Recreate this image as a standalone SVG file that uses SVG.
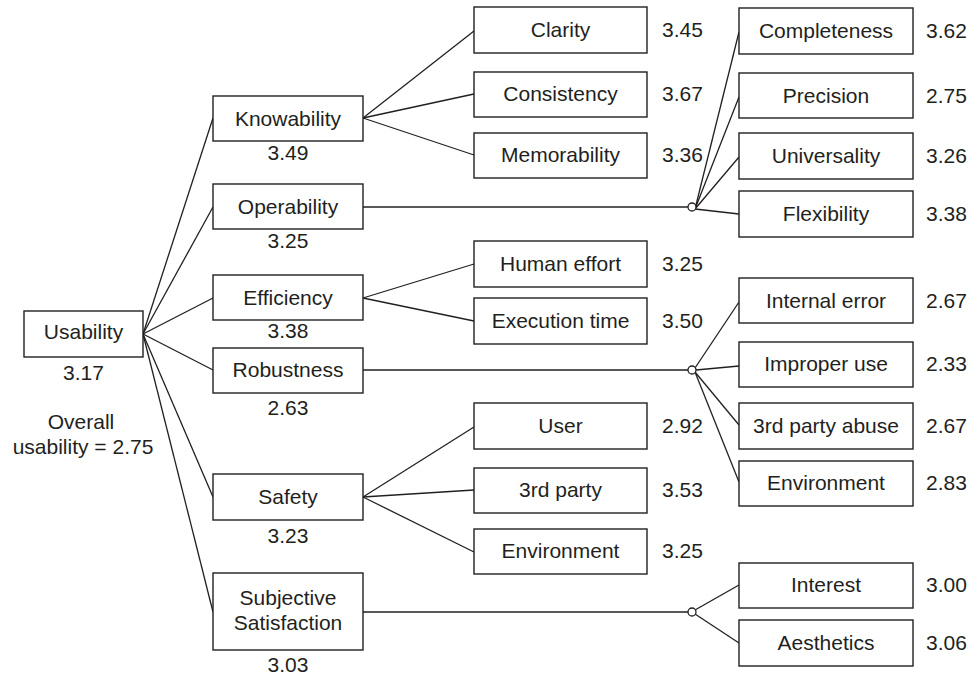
<svg xmlns="http://www.w3.org/2000/svg" width="972" height="676" viewBox="0 0 972 676">
<style>
rect.box{fill:#fff;stroke:#231f20;stroke-width:1.4}
text{font-family:"Liberation Sans",Arial,sans-serif;font-size:21px;fill:#231f20}
.c{text-anchor:middle}
#connectors line{stroke:#231f20;stroke-width:1.3}
#connectors circle{fill:#fff;stroke:#231f20;stroke-width:1.3}
</style>
<rect width="972" height="676" fill="#fff"/>
<g id="connectors">
<line x1="143" y1="334" x2="213" y2="118"/>
<line x1="143" y1="334" x2="213" y2="207"/>
<line x1="143" y1="334" x2="213" y2="298"/>
<line x1="143" y1="334" x2="213" y2="370"/>
<line x1="143" y1="334" x2="213" y2="497"/>
<line x1="143" y1="334" x2="213" y2="612"/>
<line x1="363" y1="118" x2="474" y2="31"/>
<line x1="363" y1="118" x2="474" y2="94"/>
<line x1="363" y1="118" x2="474" y2="155"/>
<line x1="363" y1="298" x2="474" y2="264"/>
<line x1="363" y1="298" x2="474" y2="321"/>
<line x1="363" y1="497" x2="474" y2="427"/>
<line x1="363" y1="497" x2="474" y2="490"/>
<line x1="363" y1="497" x2="474" y2="552"/>
<line x1="363" y1="207" x2="688" y2="207"/>
<line x1="363" y1="370" x2="688" y2="370"/>
<line x1="363" y1="612" x2="688" y2="612"/>
<line x1="695" y1="209" x2="739" y2="32"/>
<line x1="695" y1="209" x2="739" y2="97"/>
<line x1="695" y1="209" x2="739" y2="157"/>
<line x1="695" y1="209" x2="739" y2="214"/>
<line x1="695" y1="368" x2="739" y2="302"/>
<line x1="696" y1="370" x2="739" y2="366"/>
<line x1="695" y1="372" x2="739" y2="425"/>
<line x1="695" y1="372" x2="739" y2="482"/>
<line x1="695" y1="610" x2="739" y2="585"/>
<line x1="695" y1="614" x2="739" y2="643"/>
<circle cx="692" cy="207" r="4"/>
<circle cx="692" cy="370" r="4"/>
<circle cx="692" cy="612" r="4"/>
</g>
<g id="usability"><rect class="box" x="24" y="311" width="119" height="46"/><text class="c" x="83.5" y="339">Usability</text><text class="c" x="83.5" y="380">3.17</text></g>
<g id="overall"><text class="c" x="81" y="429">Overall</text><text class="c" x="83" y="454">usability = 2.75</text></g>
<g id="knowability"><rect class="box" x="213" y="96" width="150" height="45"/><text class="c" x="288" y="126">Knowability</text><text class="c" x="288" y="160">3.49</text></g>
<g id="operability"><rect class="box" x="213" y="184" width="150" height="45"/><text class="c" x="288" y="214">Operability</text><text class="c" x="288" y="248">3.25</text></g>
<g id="efficiency"><rect class="box" x="213" y="275" width="150" height="45"/><text class="c" x="288" y="305">Efficiency</text><text class="c" x="288" y="338">3.38</text></g>
<g id="robustness"><rect class="box" x="213" y="348" width="150" height="45"/><text class="c" x="288" y="377">Robustness</text><text class="c" x="288" y="415">2.63</text></g>
<g id="safety"><rect class="box" x="213" y="474" width="150" height="46"/><text class="c" x="288" y="504">Safety</text><text class="c" x="288" y="543">3.23</text></g>
<g id="subjective"><rect class="box" x="213" y="573" width="150" height="77"/><text class="c" x="288" y="605">Subjective</text><text class="c" x="288" y="630">Satisfaction</text><text class="c" x="288" y="672">3.03</text></g>
<g id="clarity"><rect class="box" x="474" y="7" width="173" height="46"/><text class="c" x="560.5" y="37">Clarity</text><text x="662" y="37">3.45</text></g>
<g id="consistency"><rect class="box" x="474" y="72" width="173" height="45"/><text class="c" x="560.5" y="101">Consistency</text><text x="662" y="101">3.67</text></g>
<g id="memorability"><rect class="box" x="474" y="133" width="173" height="45"/><text class="c" x="560.5" y="162">Memorability</text><text x="662" y="162">3.36</text></g>
<g id="human-effort"><rect class="box" x="474" y="241" width="173" height="46"/><text class="c" x="560.5" y="271">Human effort</text><text x="662" y="271">3.25</text></g>
<g id="execution-time"><rect class="box" x="474" y="298" width="173" height="46"/><text class="c" x="560.5" y="328">Execution time</text><text x="662" y="328">3.50</text></g>
<g id="user"><rect class="box" x="474" y="403" width="173" height="46"/><text class="c" x="560.5" y="433">User</text><text x="662" y="433">2.92</text></g>
<g id="third-party"><rect class="box" x="474" y="468" width="173" height="45"/><text class="c" x="560.5" y="497">3rd party</text><text x="662" y="497">3.53</text></g>
<g id="environment-s"><rect class="box" x="474" y="529" width="173" height="45"/><text class="c" x="560.5" y="558">Environment</text><text x="662" y="558">3.25</text></g>
<g id="completeness"><rect class="box" x="739" y="8" width="174" height="46"/><text class="c" x="826" y="38">Completeness</text><text x="926" y="38">3.62</text></g>
<g id="precision"><rect class="box" x="739" y="73" width="174" height="45"/><text class="c" x="826" y="103">Precision</text><text x="926" y="103">2.75</text></g>
<g id="universality"><rect class="box" x="739" y="133" width="174" height="46"/><text class="c" x="826" y="163">Universality</text><text x="926" y="163">3.26</text></g>
<g id="flexibility"><rect class="box" x="739" y="191" width="174" height="46"/><text class="c" x="826" y="221">Flexibility</text><text x="926" y="221">3.38</text></g>
<g id="internal-error"><rect class="box" x="739" y="278" width="174" height="45"/><text class="c" x="826" y="308">Internal error</text><text x="926" y="308">2.67</text></g>
<g id="improper-use"><rect class="box" x="739" y="342" width="174" height="45"/><text class="c" x="826" y="371">Improper use</text><text x="926" y="371">2.33</text></g>
<g id="third-party-abuse"><rect class="box" x="739" y="403" width="174" height="46"/><text class="c" x="826" y="433">3rd party abuse</text><text x="926" y="433">2.67</text></g>
<g id="environment-r"><rect class="box" x="739" y="461" width="174" height="45"/><text class="c" x="826" y="490">Environment</text><text x="926" y="490">2.83</text></g>
<g id="interest"><rect class="box" x="739" y="563" width="174" height="45"/><text class="c" x="826" y="592">Interest</text><text x="926" y="592">3.00</text></g>
<g id="aesthetics"><rect class="box" x="739" y="620" width="174" height="46"/><text class="c" x="826" y="650">Aesthetics</text><text x="926" y="650">3.06</text></g>
</svg>
